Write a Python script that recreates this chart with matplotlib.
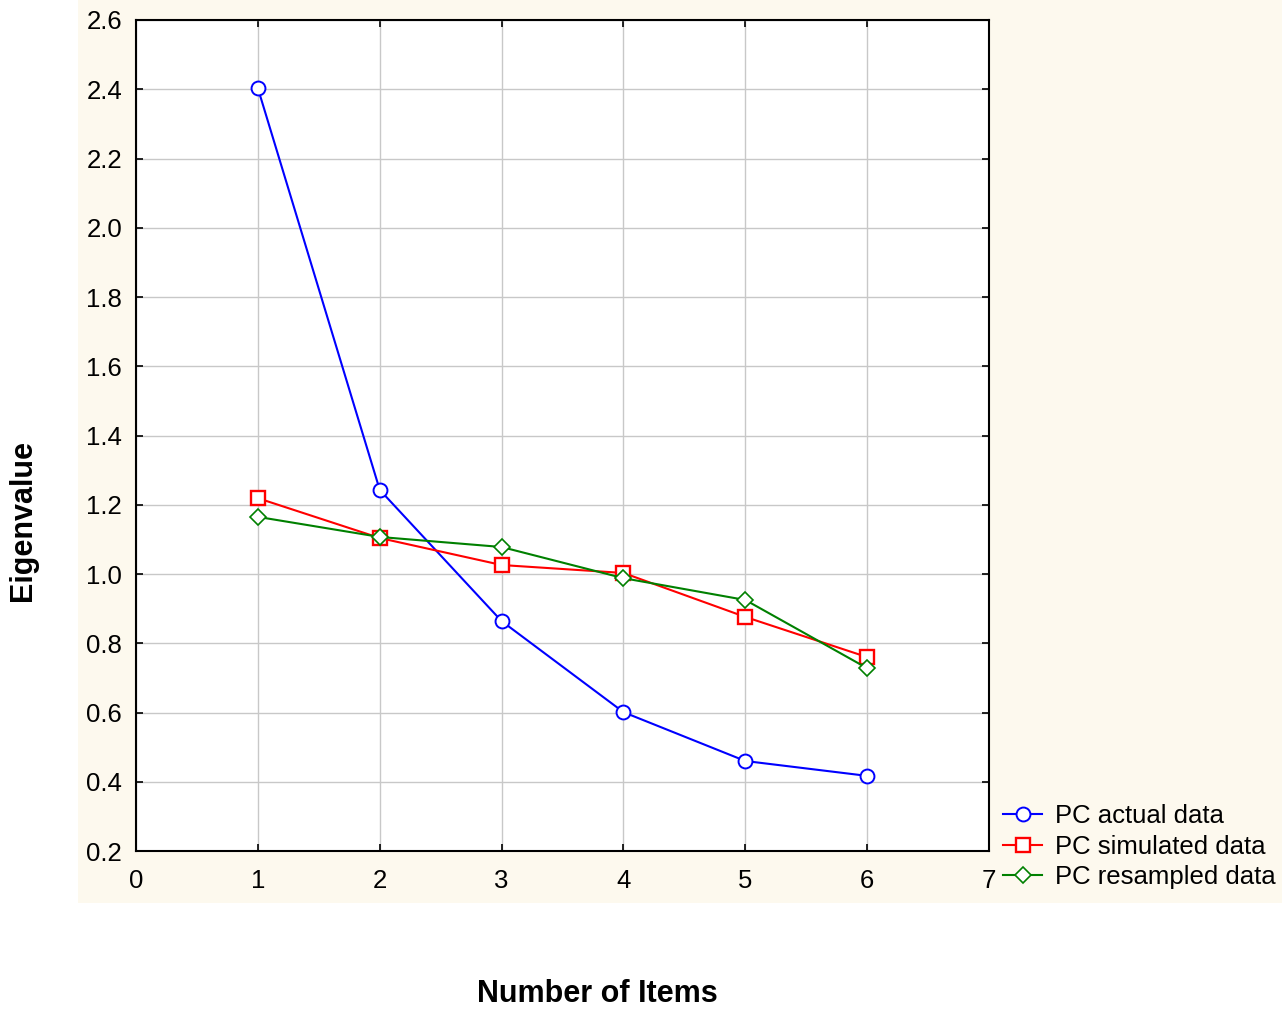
import matplotlib.pyplot as plt
from matplotlib.patches import Rectangle

plt.rcParams['font.family'] = ['Liberation Sans', 'DejaVu Sans']

items = [1, 2, 3, 4, 5, 6]
pc_actual = [2.403, 1.243, 0.864, 0.601, 0.460, 0.417]
pc_simulated = [1.219, 1.104, 1.026, 1.003, 0.876, 0.760]
pc_resampled = [1.165, 1.107, 1.078, 0.988, 0.925, 0.728]

x_ticks = [0, 1, 2, 3, 4, 5, 6, 7]
y_ticks = [0.2, 0.4, 0.6, 0.8, 1.0, 1.2, 1.4, 1.6, 1.8, 2.0, 2.2, 2.4, 2.6]

fig = plt.figure(figsize=(12.82, 10.10), dpi=100)
# cream panel behind the plot
fig.patches.append(Rectangle((0.0608, 0.1059), 0.95, 0.9, transform=fig.transFigure,
                             facecolor='#fdf9ee', edgecolor='none', zorder=-1))

ax = fig.add_axes([0.1061, 0.1574, 0.6654, 0.8228])
ax.set_facecolor('white')

ax.plot(items, pc_actual, color='#0000ff', lw=1.5, marker='o', ms=10,
        mfc='white', mec='#0000ff', mew=1.4, label='PC actual data', zorder=3)
ax.plot(items, pc_simulated, color='#ff0000', lw=1.5, marker='s', ms=9.5,
        mfc='white', mec='#ff0000', mew=1.7, label='PC simulated data', zorder=3)
ax.plot(items, pc_resampled, color='#008000', lw=1.5, marker='D', ms=8,
        mfc='white', mec='#008000', mew=1.2, label='PC resampled data', zorder=3)

ax.set_xlim(0, 7)
ax.set_ylim(0.2, 2.6)
ax.set_xticks(x_ticks)
ax.set_yticks(y_ticks)
ax.set_yticklabels(['%.1f' % v for v in y_ticks])
ax.grid(True, color='#c8c8c8', lw=1.0)
ax.set_axisbelow(True)
ax.tick_params(direction='in', length=5, width=1.2, top=True, right=True,
               labelsize=18.5, pad=10, colors='black')
ax.tick_params(axis='x', pad=13)
for s in ax.spines.values():
    s.set_linewidth(1.5)

fig.text(0.018, 0.485, 'Eigenvalue', rotation=90, fontsize=22, fontweight='bold',
         ha='center', va='center')
fig.text(0.466, 0.0155, 'Number of Items', fontsize=22, fontweight='bold',
         ha='center', va='center')

fig.legend(loc='upper left', bbox_to_anchor=(0.7824, 0.204), frameon=False,
           fontsize=18.5, handlelength=1.52, handletextpad=0.5, labelspacing=0.26,
           borderaxespad=0, borderpad=0)

fig.savefig('out.png', dpi=100)
